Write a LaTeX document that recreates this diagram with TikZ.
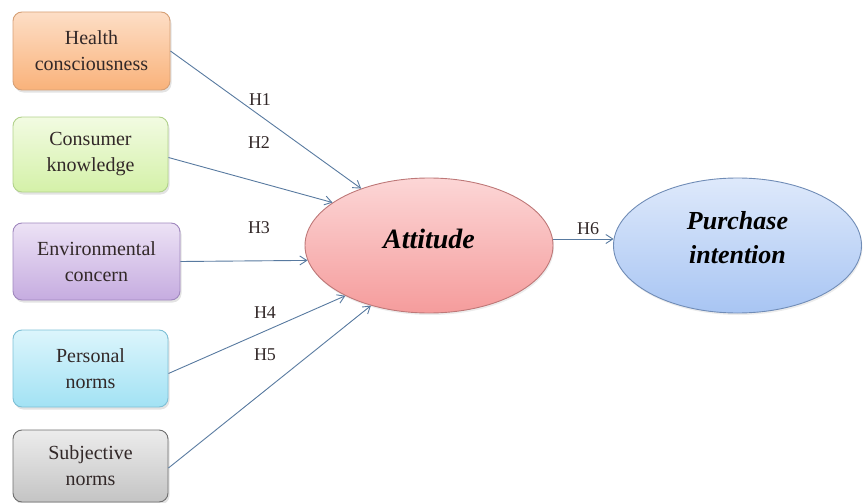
\documentclass[tikz,border=0pt]{standalone}
\usepackage{fontspec}
\setmainfont{Liberation Serif}
\usetikzlibrary{shapes.geometric,arrows.meta,shadows}

% fill/border colours of the constructs
\definecolor{hcTop}{RGB}{253,222,198}
\definecolor{hcBot}{RGB}{249,178,122}
\definecolor{hcLine}{RGB}{214,160,118}
\definecolor{ckTop}{RGB}{242,251,226}
\definecolor{ckBot}{RGB}{212,241,168}
\definecolor{ckLine}{RGB}{178,210,140}
\definecolor{ecTop}{RGB}{236,226,245}
\definecolor{ecBot}{RGB}{198,172,224}
\definecolor{ecLine}{RGB}{160,136,190}
\definecolor{pnTop}{RGB}{220,245,252}
\definecolor{pnBot}{RGB}{162,226,244}
\definecolor{pnLine}{RGB}{126,192,214}
\definecolor{snTop}{RGB}{236,236,236}
\definecolor{snBot}{RGB}{196,196,196}
\definecolor{snLine}{RGB}{110,110,110}
\definecolor{atTop}{RGB}{252,214,214}
\definecolor{atBot}{RGB}{245,156,156}
\definecolor{atLine}{RGB}{190,120,120}
\definecolor{piTop}{RGB}{222,233,251}
\definecolor{piBot}{RGB}{168,197,243}
\definecolor{piLine}{RGB}{112,140,182}
\definecolor{pathBlue}{RGB}{88,122,160}
\definecolor{txt}{RGB}{50,40,40}

% extra room below a box, so that its text sits a little above centre
\newcommand{\liftby}[2]{\raisebox{0pt}[\height][\dimexpr\depth+#1\relax]{#2}}

\tikzset{
  factor/.style={rectangle, rounded corners=9pt, line width=0.9pt,
    align=center, inner sep=2pt, text=txt,
    font=\fontsize{20}{26}\selectfont,
    drop shadow={opacity=0.22, shadow xshift=1.5pt, shadow yshift=-2.5pt}},
  construct/.style={ellipse, inner sep=0pt, line width=0.9pt,
    minimum width=248pt, minimum height=135pt, text=black,
    drop shadow={opacity=0.15, shadow xshift=1pt, shadow yshift=-2pt}},
  path arrow/.style={draw=pathBlue, line width=0.9pt,
    -{Straight Barb[length=7pt,width=9pt,line width=0.9pt]}},
  hyp/.style={font=\fontsize{18}{20}\selectfont, text=txt, inner sep=0pt}
}

\begin{document}
\begin{tikzpicture}[x=1pt, y=-1pt]
  \useasboundingbox (0,0) rectangle (865,503);

  % antecedent factors
  \node[factor, minimum width=157pt, minimum height=78pt,
        top color=hcTop, bottom color=hcBot, draw=hcLine]
        (hc) at (91.5,51) {Health\\consciousness};
  \node[factor, minimum width=155pt, minimum height=75pt,
        top color=ckTop, bottom color=ckBot, draw=ckLine]
        (ck) at (90.5,154.5) {Consumer\\knowledge};
  \node[factor, minimum width=167pt, minimum height=77pt,
        top color=ecTop, bottom color=ecBot, draw=ecLine]
        (ec) at (96.5,261.5) {Environmental\\concern};
  \node[factor, minimum width=155pt, minimum height=77pt,
        top color=pnTop, bottom color=pnBot, draw=pnLine]
        (pn) at (90.5,368.5) {Personal\\norms};
  \node[factor, minimum width=155pt, minimum height=72pt,
        top color=snTop, bottom color=snBot, draw=snLine]
        (sn) at (90.5,466) {Subjective\\norms};

  % mediator and outcome
  \node[construct, top color=atTop, bottom color=atBot, draw=atLine,
        font=\fontsize{28}{34}\selectfont\bfseries\itshape]
        (att) at (429,245.5) {\liftby{14pt}{Attitude}};
  \node[construct, top color=piTop, bottom color=piBot, draw=piLine,
        font=\fontsize{26}{34}\selectfont\bfseries\itshape]
        (pi) at (737.5,245.5)
        {\liftby{12pt}{\begin{tabular}{@{}c@{}}Purchase\\intention\end{tabular}}};

  % hypothesised paths
  \draw[path arrow] (hc.east) -- (att.140);
  \draw[path arrow] ([yshift=-3pt]ck.east) -- (att.156);
  \draw[path arrow] (ec.east) -- (att.187);
  \draw[path arrow] ([yshift=-5pt]pn.east) -- (att.211);
  \draw[path arrow] ([yshift=-2pt]sn.east) -- (att.226);
  \draw[path arrow] (att.3) -- (pi.177);

  % hypothesis labels
  \node[hyp] (h1) at (260,100) {H1};
  \node[hyp] (h2) at (259,143) {H2};
  \node[hyp] (h3) at (259,228) {H3};
  \node[hyp] (h4) at (265,313) {H4};
  \node[hyp] (h5) at (265,355) {H5};
  \node[hyp] (h6) at (588,229) {H6};
\end{tikzpicture}
\end{document}
